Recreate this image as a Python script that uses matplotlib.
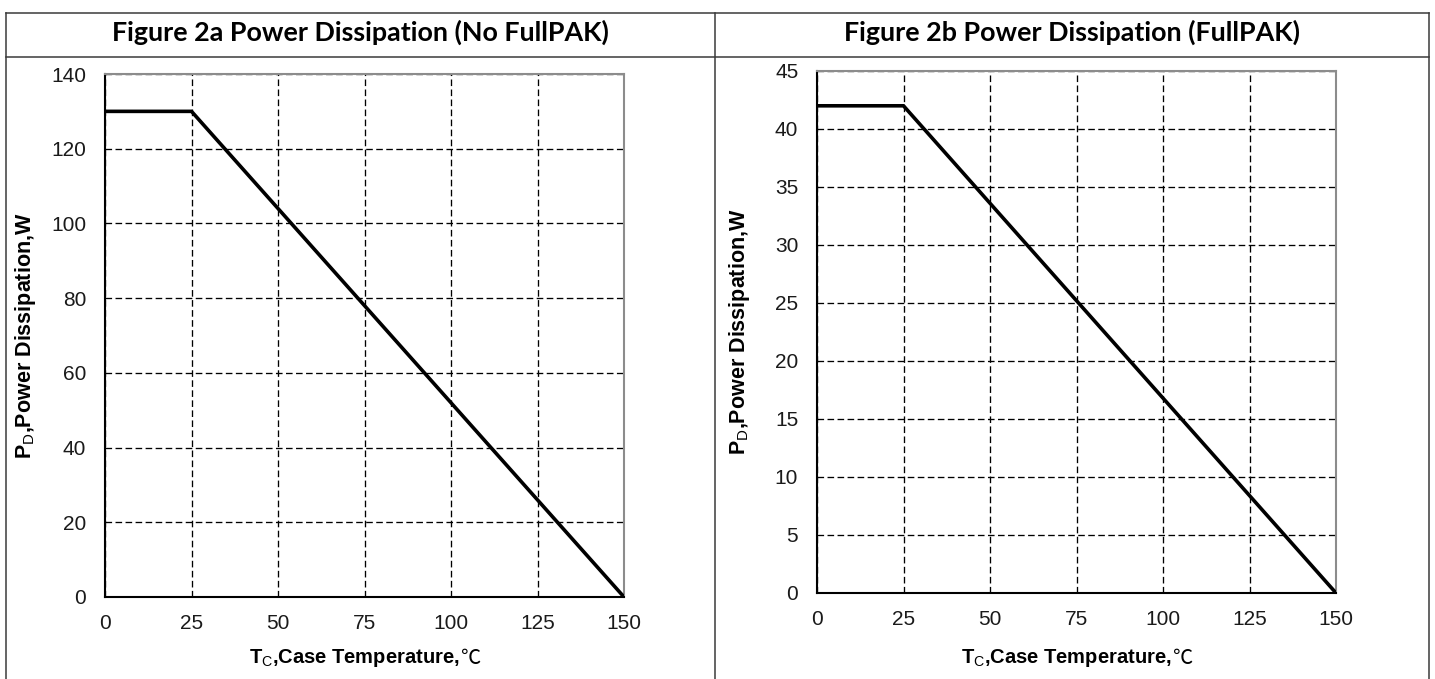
import matplotlib
matplotlib.use("Agg")
import matplotlib.pyplot as plt
from matplotlib.lines import Line2D

# data
temp_c = [0, 25, 150]
pd_no_fullpak = [130, 130, 0]
pd_fullpak = [42, 42, 0]

titles = ["Figure 2a Power Dissipation (No FullPAK)",
          "Figure 2b Power Dissipation (FullPAK)"]
x_ticks = [0, 25, 50, 75, 100, 125, 150]
y_ticks_a = [0, 20, 40, 60, 80, 100, 120, 140]
y_ticks_b = [0, 5, 10, 15, 20, 25, 30, 35, 40, 45]

plt.rcParams['font.family'] = ['Liberation Sans', 'Noto Sans CJK SC', 'DejaVu Sans']
plt.rcParams['mathtext.fontset'] = 'custom'
plt.rcParams['mathtext.rm'] = 'Liberation Sans'
plt.rcParams['mathtext.bf'] = 'Liberation Sans:bold'

W, H = 1435, 679
fig = plt.figure(figsize=(W / 100, H / 100), dpi=100)
renderer = fig.canvas.get_renderer()

def px(x0, y0, x1, y1):
    # pixel box (top-left origin) -> figure fraction rect
    return [x0 / W, 1 - y1 / H, (x1 - x0) / W, (y1 - y0) / H]

# table borders
border = dict(color='#3a3a3a', lw=1.1, transform=fig.transFigure)
for xs, ys in [([6, 1429], [13, 13]), ([6, 1429], [57, 57]),
               ([6, 6], [13, 679]), ([715, 715], [13, 679]), ([1429, 1429], [13, 679])]:
    fig.add_artist(Line2D([x / W for x in xs], [1 - y / H for y in ys], **border))

# header titles, size chosen so the first one is ~500 px wide like the scan
t1 = fig.text(360 / W, 1 - 41 / H, titles[0], ha='center', va='baseline',
              fontsize=16, fontweight='bold', family='Lato')
fs = 16 * 500 / t1.get_window_extent(renderer).width
t1.set_fontsize(fs)
fig.text(1072 / W, 1 - 41 / H, titles[1], ha='center', va='baseline',
         fontsize=fs, fontweight='bold', family='Lato')

panels = [
    (px(105, 74, 624, 597), pd_no_fullpak, y_ticks_a, 26),
    (px(817, 71, 1336, 593), pd_fullpak, y_ticks_b, 740),
]

for rect, values, yt, ylab_x in panels:
    ax = fig.add_axes(rect)
    ax.plot(temp_c, values, color='black', lw=2.6, solid_joinstyle='miter', zorder=3)
    ax.set_xlim(x_ticks[0], x_ticks[-1])
    ax.set_ylim(yt[0], yt[-1])
    ax.set_xticks(x_ticks)
    ax.set_yticks(yt)
    ax.grid(True, color='black', linestyle=(0, (5, 2.6)), lw=0.95)
    ax.tick_params(length=0, labelsize=15, pad=13.5, colors='#1a1a1a')
    ax.tick_params(axis='x', pad=12)
    for s in ['top', 'right']:
        ax.spines[s].set_color('#8c8c8c')
        ax.spines[s].set_linewidth(1.5)
    for s in ['left', 'bottom']:
        ax.spines[s].set_color('black')
        ax.spines[s].set_linewidth(1.5)
    pos = ax.get_position()
    fig.text(ylab_x / W, pos.y0 + pos.height / 2,
             r'$\mathbf{P}_{\mathrm{D}}$,Power Dissipation,W',
             rotation=90, ha='center', va='center', fontsize=15.5, fontweight='bold')
    # x title: main part plus the degree-C sign from a CJK font, centred together
    xc = (pos.x0 + pos.width / 2) * W
    yc = 1 - 658 / H
    main = fig.text(0, yc, r'$\mathbf{T}_{\mathrm{C}}$,Case Temperature,',
                    ha='left', va='center', fontsize=14.5, fontweight='bold')
    deg = fig.text(0, yc, '℃', ha='left', va='center', fontsize=14.5,
                   family='Noto Sans CJK SC')
    w_main = main.get_window_extent(renderer).width
    w_deg = deg.get_window_extent(renderer).width
    x0 = xc - (w_main + w_deg) / 2
    main.set_x(x0 / W)
    deg.set_x((x0 + w_main) / W)

fig.savefig("out.png", dpi=100)
